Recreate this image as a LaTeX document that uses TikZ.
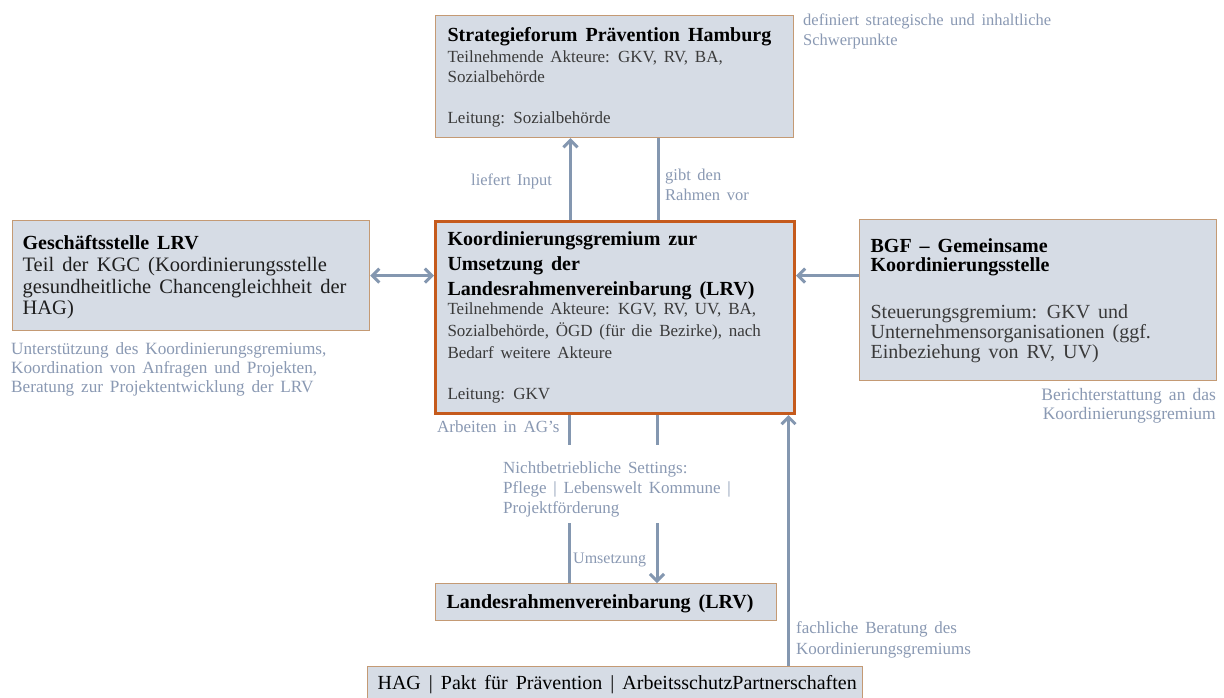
\documentclass[tikz,border=0pt]{standalone}
\usepackage{fontspec}
\setmainfont{Liberation Serif}[WordSpace=1.6]
\usetikzlibrary{arrows.meta}
\definecolor{boxfill}{HTML}{D6DCE5}
\definecolor{tanc}{HTML}{C49A74}
\definecolor{kgc}{HTML}{C55A1C}
\definecolor{arrc}{HTML}{8497B0}
\definecolor{annc}{HTML}{8A99B3}
\definecolor{bodyc}{HTML}{3A3A3A}
\begin{document}
\begin{tikzpicture}[x=1pt,y=-1pt,
  box/.style={draw=tanc, fill=boxfill, line width=1.2pt, inner ysep=0pt, anchor=north west, text=bodyc},
  ann/.style={text=annc, font=\fontsize{16.5}{20}\selectfont, align=left, inner sep=0pt, anchor=north west},
  arr/.style={draw=arrc, line width=3pt, -{Straight Barb[length=7pt,width=14pt]}},
  dblarr/.style={draw=arrc, line width=3pt, {Straight Barb[length=7pt,width=14pt]}-{Straight Barb[length=7pt,width=14pt]}},
  ln/.style={draw=arrc, line width=3pt}
]
\useasboundingbox (0,0) rectangle (1224,697);
\fill[white] (0,0) rectangle (1224,697);
\clip (0,0) rectangle (1224,697);

% boxes
\node[box, inner xsep=12pt] (strat) at (435,15) {\parbox[t][122pt][t]{334pt}{\raggedright
 {\fontsize{20}{24}\selectfont\bfseries\leavevmode\color{black}\rule{0pt}{26pt}Strategieforum Prävention Hamburg\par}
 {\fontsize{17}{20.5}\selectfont Teilnehmende Akteure: GKV, RV, BA,\\Sozialbehörde\par
 \vspace{20.5pt}Leitung: Sozialbehörde\par}}};

\node[box, draw=kgc, line width=3pt, inner xsep=12pt] (kg) at (434,220) {\parbox[t][192pt][t]{335pt}{\raggedright
 {\fontsize{20}{25}\selectfont\bfseries\leavevmode\color{black}\rule{0pt}{24pt}Koordinierungsgremium zur\\Umsetzung der\\Landesrahmenvereinbarung (LRV)\par}
 \vspace{-3pt}
 {\fontsize{17}{22}\selectfont Teilnehmende Akteure: KGV, RV, UV, BA,\\Sozialbehörde, ÖGD (für die Bezirke), nach\\Bedarf weitere Akteure\par
 \vspace{19pt}Leitung: GKV\par}}};

\node[box, inner xsep=10pt] (gs) at (12,220) {\parbox[t][110pt][t]{337pt}{\raggedright
 {\fontsize{20}{21.7}\selectfont\bfseries\leavevmode\color{black}\rule{0pt}{29pt}Geschäftsstelle LRV\par}
 {\fontsize{20.5}{21.7}\selectfont\leavevmode\color{black!88}Teil der KGC (Koordinierungsstelle\\gesundheitliche Chancengleichheit der\\HAG)\par}}};

\node[box, inner xsep=11pt] (bgf) at (859,219) {\parbox[t][161pt][t]{335pt}{\raggedright
 {\fontsize{20}{19}\selectfont\bfseries\leavevmode\color{black}\rule{0pt}{33pt}BGF – Gemeinsame\\Koordinierungsstelle\par}
 \vspace{27pt}
 {\fontsize{20}{20}\selectfont Steuerungsgremium: GKV und\\Unternehmensorganisationen (ggf.\\Einbeziehung von RV, UV)\par}}};

\node[box, inner xsep=11pt] (lrv) at (435,583) {\parbox[t][37pt][t]{319pt}{\fontsize{20}{24}\selectfont\bfseries\leavevmode\color{black}\rule{0pt}{25pt}\mbox{Landesrahmenvereinbarung (LRV)}}};

\node[box, inner xsep=10pt] (hag) at (367,666) {\parbox[t][40pt][t]{475pt}{\fontsize{20}{24}\selectfont\leavevmode\color{black}\rule{0pt}{23pt}\mbox{HAG | Pakt für Prävention | ArbeitsschutzPartnerschaften}}};

% annotations
\node[ann] (a1) at (803,12) {\rule{0pt}{13pt}definiert strategische und inhaltliche\\Schwerpunkte};
\node[ann] (a2) at (471,172) {\rule{0pt}{13pt}liefert Input};
\node[ann] (a3) at (665,167) {\rule{0pt}{13pt}gibt den\\Rahmen vor};
\node[ann, font=\fontsize{17.2}{18.8}\selectfont] (a4) at (11,341.5) {\rule{0pt}{13pt}Unterstützung des Koordinierungsgremiums,\\Koordination von Anfragen und Projekten,\\Beratung zur Projektentwicklung der LRV};
\node[ann, font=\fontsize{17.5}{19}\selectfont, anchor=north east, align=right] (a5) at (1216,387) {\rule{0pt}{13pt}Berichterstattung an das\\Koordinierungsgremium};
\node[ann, font=\fontsize{17}{20}\selectfont] (a6) at (437,419) {\rule{0pt}{13pt}Arbeiten in AG's};
\node[ann, font=\fontsize{17}{20}\selectfont] (a7) at (503,460) {\rule{0pt}{13pt}Nichtbetriebliche Settings:\\Pflege | Lebenswelt Kommune |\\Projektförderung};
\node[ann, font=\fontsize{16}{20}\selectfont] (a8) at (573,550) {\rule{0pt}{13pt}Umsetzung};
\node[ann, font=\fontsize{17}{21.5}\selectfont] (a9) at (796,620) {\rule{0pt}{13pt}fachliche Beratung des\\Koordinierungsgremiums};

% connectors
\draw[arr] ([xshift=136.5pt]kg.north west) -- ([xshift=136.5pt]kg.north west |- strat.south);
\draw[ln] ([xshift=224.5pt]kg.north west |- strat.south) -- ([xshift=224.5pt]kg.north west);
\draw[dblarr] (gs.east) -- (gs.east -| kg.west);
\draw[arr] (bgf.west |- gs.east) -- (kg.east |- gs.east);
\coordinate (s1) at (569,445);
\coordinate (s2) at (657,445);
\coordinate (u1) at (569,523);
\coordinate (u2) at (657,523);
\draw[ln] (s1 |- kg.south) -- (s1);
\draw[ln] (s2 |- kg.south) -- (s2);
\draw[ln] (u1) -- (u1 |- lrv.north);
\draw[arr] (u2) -- (u2 |- lrv.north);
\draw[arr] ([xshift=354.5pt]kg.south west |- hag.north) -- ([xshift=354.5pt]kg.south west);
\end{tikzpicture}
\end{document}
